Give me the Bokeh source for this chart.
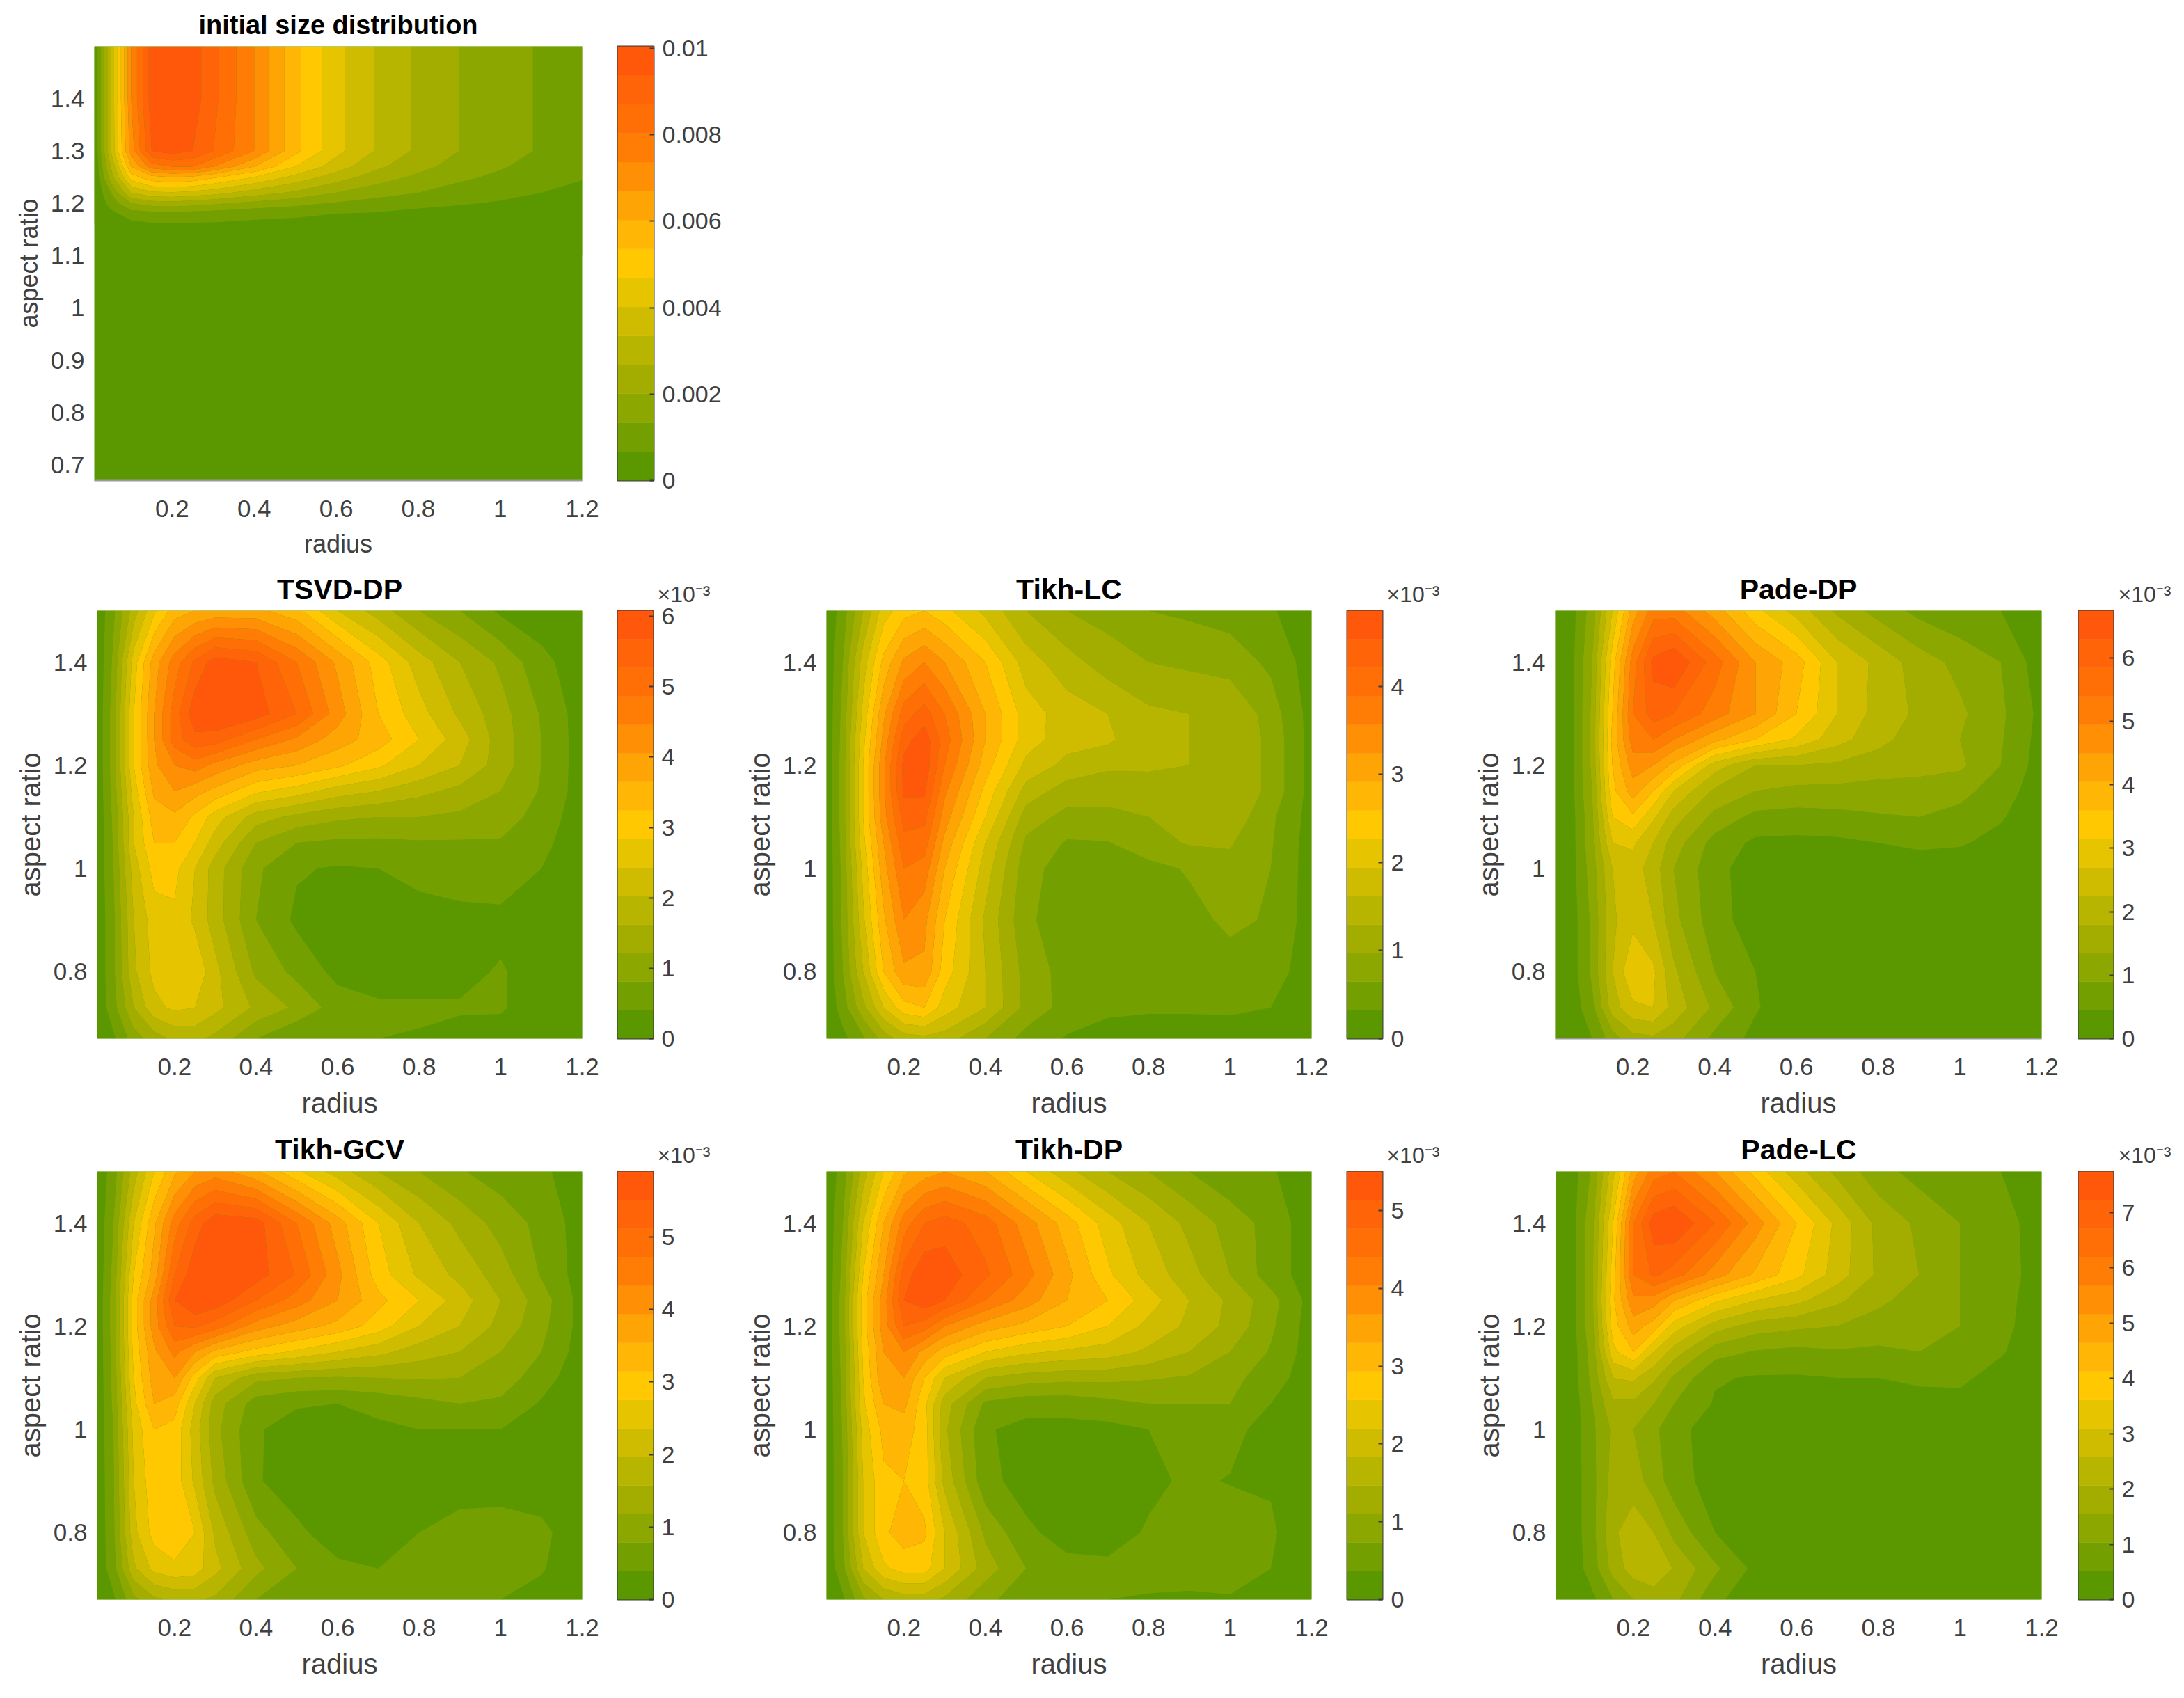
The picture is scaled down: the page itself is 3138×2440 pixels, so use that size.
from bokeh.plotting import figure
from bokeh.layouts import column, row
from bokeh.models import Range1d, FixedTicker
from bokeh.embed import file_html
from bokeh.resources import INLINE

# Colours of the 15 filled bands, low to high
band_colors = ["#5B9800", "#73A000", "#8CA800", "#A3AD00", "#B8B500", "#CFBC00", "#E6C400", "#FFC800",
               "#FFB605", "#FFA405", "#FF8F05", "#FF7D05", "#FF6F06", "#FF6408", "#FF580A"]
levels = list(range(16))

radius = [0.01, 0.05, 0.1, 0.15, 0.2, 0.25, 0.3, 0.4, 0.5, 0.6, 0.7, 0.8, 0.9, 1.0, 1.1, 1.2]
aspect = [1.5, 1.4, 1.3, 1.25, 1.2, 1.15, 1.1, 1.05, 1.0, 0.9, 0.8, 0.73, 0.67]
aspect_init = [1.5, 1.4, 1.3, 1.27, 1.25, 1.22, 1.2, 1.18, 1.16, 1.1, 1.0, 0.67]

x_ticks = [0.2, 0.4, 0.6, 0.8, 1.0, 1.2]
x_labels = ["0.2", "0.4", "0.6", "0.8", "1", "1.2"]
y_ticks_init = [0.7, 0.8, 0.9, 1.0, 1.1, 1.2, 1.3, 1.4]
y_labels_init = ["0.7", "0.8", "0.9", "1", "1.1", "1.2", "1.3", "1.4"]
y_ticks = [0.8, 1.0, 1.2, 1.4]
y_labels = ["0.8", "1", "1.2", "1.4"]

# Values, expressed in colour-band units (0..15), top row first
initial = [
 [0, 5, 11, 14.5, 15, 14.5, 13.3, 11, 8.3, 6.3, 4.9, 3.8, 3, 2.4, 1.9, 1.5],
 [0, 5, 11, 14.5, 15, 14.5, 13.3, 11, 8.3, 6.3, 4.9, 3.8, 3, 2.4, 1.9, 1.5],
 [0, 5, 10.5, 14, 14.5, 14, 13, 11, 8.3, 6.3, 4.9, 3.8, 3, 2.4, 1.9, 1.5],
 [0, 4, 9, 11.5, 12, 12, 11, 9, 7, 5.5, 4.2, 3.3, 2.6, 2.1, 1.6, 1.3],
 [0, 3.5, 7.5, 8.7, 9, 8.8, 8.2, 7, 5.7, 4.5, 3.5, 2.8, 2.2, 1.8, 1.4, 1.05],
 [0, 2, 5, 5.8, 5.9, 5.7, 5.4, 4.5, 3.8, 3, 2.4, 2, 1.6, 1.3, 1, 0.8],
 [0, 1.4, 3, 3.5, 3.6, 3.4, 3.2, 2.7, 2.3, 1.9, 1.6, 1.3, 1.1, 0.9, 0.7, 0.5],
 [0, 0.7, 1.5, 1.6, 1.7, 1.6, 1.5, 1.3, 1.2, 1, 0.9, 0.7, 0.6, 0.5, 0.4, 0.3],
 [0, 0.2, 0.7, 0.9, 0.9, 0.9, 0.9, 0.8, 0.7, 0.6, 0.5, 0.4, 0.3, 0.2, 0.2, 0.1],
 [0, 0, 0.1, 0.1, 0.1, 0.1, 0.1, 0.1, 0.1, 0.1, 0.1, 0.1, 0.1, 0, 0, 0],
 [0, 0, 0, 0, 0, 0, 0, 0, 0, 0, 0, 0, 0, 0, 0, 0],
 [0, 0, 0, 0, 0, 0, 0, 0, 0, 0, 0, 0, 0, 0, 0, 0],
]
tsvd_dp = [
 [0.2, 1.8, 4.5, 6.8, 8.5, 9, 9.3, 9.3, 8.3, 6, 4.5, 3, 2, 0.8, 0.4, 0.2],
 [0.2, 2.2, 6.5, 9.5, 11.5, 13.2, 14.5, 14, 12, 9.8, 7.5, 5.5, 4, 2.8, 1.3, 0.4],
 [0.2, 2.5, 7, 10, 12.5, 14.7, 15, 14.5, 13, 10.5, 8, 6.4, 4.8, 3.4, 1.9, 0.5],
 [0.2, 2.5, 7, 10, 12.5, 13.7, 13.5, 12, 10.8, 9.5, 8.5, 7, 5.5, 3.5, 2, 0.5],
 [0.2, 2.5, 7, 9.8, 11, 11.5, 10.7, 9.5, 9, 8.2, 7.2, 6, 5, 3.5, 2, 0.5],
 [0.2, 2.4, 6.5, 9.2, 10, 9.4, 8.7, 7.2, 6.5, 5.5, 5, 4.3, 3.7, 3, 1.9, 0.5],
 [0.2, 2.2, 6, 8.5, 8.8, 7.8, 6.5, 4.5, 3.7, 3.2, 3, 3, 2.8, 2.5, 1.6, 0.4],
 [0.2, 2.1, 6, 8, 8, 7, 5.5, 3, 2, 1.8, 1.8, 1.9, 1.9, 1.9, 1.3, 0.3],
 [0.2, 2, 5.5, 7.4, 7.3, 6, 4.5, 2.2, 1.1, 0.9, 1, 1.4, 1.7, 1.7, 1, 0.3],
 [0.2, 1.8, 5, 6.5, 6.8, 5.8, 4.5, 2, 0.8, 0.4, 0.4, 0.5, 0.6, 0.7, 0.4, 0.2],
 [0.2, 1.8, 4.8, 6.3, 6.9, 6.8, 5.3, 2.8, 1.7, 0.7, 0.4, 0.4, 0.7, 1.1, 0.5, 0.2],
 [0.2, 1.6, 4, 5.7, 6.2, 6, 5.3, 3.8, 2.8, 1.5, 1.2, 1.2, 1.1, 1.1, 0.5, 0.2],
 [0.1, 0.8, 2.5, 3.5, 4.2, 4.3, 3.7, 2, 1, 1, 1, 0.9, 0.7, 0.6, 0.3, 0.1],
]
tikh_lc = [
 [0.2, 1.5, 4, 6.5, 7.6, 8, 7.3, 5.7, 4, 3, 2.6, 2, 1.8, 1.6, 1.1, 0.4],
 [0.2, 2, 5.5, 8.3, 10.2, 11, 10, 8, 5.5, 4.4, 3.5, 3, 2.8, 2.5, 1.8, 0.5],
 [0.2, 2.3, 6.3, 9.8, 12.5, 13.5, 12, 9, 6.5, 5.5, 5, 4.2, 4, 4, 2.5, 0.6],
 [0.2, 2.4, 6.7, 10.3, 13.6, 14.6, 12.5, 9, 6.5, 5.4, 5.2, 4.2, 4, 4, 2.7, 0.6],
 [0.2, 2.5, 7, 10.8, 14.3, 14.7, 12, 8.5, 5.7, 4.7, 4.2, 4.1, 4, 4, 2.7, 0.6],
 [0.2, 2.5, 7, 10.8, 14.2, 14.2, 11.2, 7.7, 4.6, 3.5, 3.3, 3.7, 4, 4, 2.7, 0.6],
 [0.2, 2.5, 7, 10.6, 13.4, 13.3, 10.5, 7, 3.5, 2.7, 2.8, 3, 3.4, 3.7, 2.2, 0.6],
 [0.2, 2.4, 6.7, 10, 12.7, 12.5, 9.7, 6, 2.8, 1.9, 1.95, 2.6, 3.1, 3.1, 2.1, 0.5],
 [0.2, 2.3, 6.3, 9.6, 12, 11.6, 9, 5.5, 2.4, 1.5, 1.4, 1.7, 2.1, 2.7, 2, 0.5],
 [0.2, 2.2, 5.8, 8.8, 11, 10.3, 8, 4.8, 2.2, 1.4, 1.35, 1.4, 1.7, 2.2, 1.9, 0.5],
 [0.2, 2, 5, 8, 9.8, 9.8, 7.5, 5, 2.6, 1.6, 1.2, 1.2, 1.3, 1.6, 1.5, 0.4],
 [0.2, 1.5, 3.7, 6, 7.6, 8, 6.5, 5, 2.7, 1.6, 1.2, 1.1, 1.1, 1.1, 1, 0.3],
 [0.1, 0.7, 1.8, 3.4, 4.5, 4.7, 4.5, 3, 1.6, 0.9, 0.6, 0.6, 0.6, 0.7, 0.5, 0.2],
]
pade_dp = [
 [0.2, 0.6, 2.5, 6, 9.5, 11.5, 11.5, 9.5, 7.3, 5.6, 3.8, 2.6, 1.7, 1.2, 1, 0.3],
 [0.2, 0.7, 3, 7.5, 11.5, 14.3, 15, 12.5, 10, 8.5, 6, 4.7, 3.5, 2.7, 2, 0.4],
 [0.2, 0.7, 3.2, 8, 12, 13.5, 13, 11.5, 10, 8, 6, 4.6, 3.8, 3.2, 2.2, 0.7],
 [0.2, 0.7, 3.2, 8.3, 11.5, 12, 11, 9.3, 8, 6.8, 5.4, 4.3, 3.5, 3, 2.1, 0.6],
 [0.2, 0.7, 3.2, 8, 10.5, 10, 8.7, 5.5, 4, 4, 3.8, 3.5, 3.4, 3.2, 2, 0.5],
 [0.2, 0.7, 3, 7.7, 9.5, 8, 6, 3.8, 3, 2.7, 2.7, 2.6, 2.5, 2.3, 1.5, 0.4],
 [0.2, 0.6, 2.8, 7, 7.8, 6.2, 4.5, 2.7, 1.7, 1.6, 1.7, 1.9, 2, 1.7, 1.1, 0.3],
 [0.2, 0.6, 2.7, 6, 6.2, 5, 3.5, 1.6, 0.8, 0.75, 0.8, 1, 1.2, 1.1, 0.7, 0.2],
 [0.2, 0.6, 2.5, 5, 5.5, 4.5, 3, 1.3, 0.5, 0.4, 0.4, 0.4, 0.5, 0.5, 0.3, 0.15],
 [0.2, 0.5, 2.2, 4.8, 5.7, 5, 3.3, 1.4, 0.5, 0.3, 0.3, 0.2, 0.2, 0.2, 0.2, 0.1],
 [0.2, 0.5, 2.2, 5, 6.9, 6.2, 4.2, 2, 1, 0.3, 0.2, 0.2, 0.2, 0.2, 0.2, 0.1],
 [0.2, 0.4, 1.7, 4.5, 5.8, 6, 4.6, 2.8, 1.1, 0.3, 0.2, 0.2, 0.2, 0.2, 0.2, 0.1],
 [0.1, 0.3, 1, 2.5, 3.6, 3.8, 3.4, 1.7, 0.7, 0.2, 0.2, 0.2, 0.2, 0.2, 0.1, 0.1],
]
tikh_gcv = [
 [0.2, 1.5, 4.5, 7, 8.8, 10, 10.5, 9.2, 7.2, 5.5, 4, 3, 2.1, 1.5, 1.2, 0.4],
 [0.2, 2, 6, 8.8, 11.5, 13.5, 14.7, 14.5, 12, 9.5, 7, 5, 3.7, 2.6, 1.7, 0.5],
 [0.2, 2.3, 7, 9.5, 13, 14.7, 15, 14.5, 12.9, 10.3, 7.5, 5.8, 4.7, 3.5, 1.9, 0.5],
 [0.2, 2.5, 7.5, 10.5, 14, 15, 14.7, 13, 11.5, 10, 8.3, 7, 5.5, 4, 2.5, 0.6],
 [0.2, 2.5, 7.5, 10.5, 13, 13.2, 12.5, 10.5, 9.5, 8.7, 7.5, 6, 5, 3.7, 2.3, 0.6],
 [0.2, 2.4, 7.3, 9.8, 11.3, 10, 8.7, 7.6, 6.8, 6, 5.3, 4.5, 4, 3, 2, 0.5],
 [0.2, 2.3, 7, 9.5, 10, 7.5, 5, 3.3, 3, 2.9, 3, 3.1, 3, 2.6, 1.4, 0.4],
 [0.2, 2.2, 6.7, 9, 8.5, 6, 3.5, 1.5, 1.1, 1, 1.3, 1.7, 2, 1.8, 0.9, 0.3],
 [0.2, 2, 6.3, 8, 7.7, 5.5, 3.3, 1.1, 0.6, 0.6, 0.8, 1, 1, 1, 0.5, 0.2],
 [0.2, 1.9, 6, 7.7, 7.6, 5.8, 3.7, 1.1, 0.5, 0.4, 0.4, 0.4, 0.4, 0.4, 0.3, 0.2],
 [0.2, 1.8, 5.7, 7.4, 8, 7, 4.8, 2.4, 1.2, 0.5, 0.6, 1, 1.5, 1.6, 1.3, 0.2],
 [0.2, 1.6, 4.8, 6.3, 6.7, 6.5, 5.3, 3.3, 2, 1.2, 1, 1.2, 1.4, 1.5, 1.1, 0.2],
 [0.1, 0.8, 2.7, 3.8, 4.2, 4.2, 3.8, 2, 1.2, 1.1, 1.1, 1.2, 1.2, 1, 0.6, 0.2],
]
tikh_dp = [
 [0.2, 1.5, 4.5, 7, 8.8, 9.5, 10, 9, 7, 5.3, 4, 3, 2, 1.2, 1.1, 0.4],
 [0.2, 2, 6, 9, 11.5, 13, 13.5, 12.5, 10.5, 8.5, 6.5, 5, 3.7, 2.6, 1.6, 0.4],
 [0.2, 2.3, 7, 10, 13.5, 14.8, 14.6, 13.2, 11.4, 9.3, 7.2, 5.6, 4.4, 3, 1.5, 0.5],
 [0.2, 2.5, 7.5, 10.5, 14, 14.7, 14, 12, 10.5, 9, 8, 6.5, 5, 3.8, 2.4, 0.6],
 [0.2, 2.5, 7.5, 10.5, 13, 12.5, 11, 9.5, 8.7, 8, 7, 5.7, 4.8, 3.7, 2.2, 0.5],
 [0.2, 2.4, 7.2, 10, 11, 9.7, 8.5, 7, 6.2, 5.8, 5.5, 4.8, 4, 3, 1.9, 0.5],
 [0.2, 2.3, 7, 9.8, 10, 8, 6, 4, 3.5, 3.3, 3.3, 3.1, 2.9, 2.3, 1.5, 0.4],
 [0.2, 2.2, 6.8, 9, 9.3, 7.3, 4.5, 1.8, 1.4, 1.4, 1.7, 2, 2, 2, 1, 0.3],
 [0.2, 2.1, 6.4, 8.3, 8.5, 7.5, 4.2, 1.1, 0.7, 0.7, 0.7, 1, 1.3, 1.3, 0.6, 0.2],
 [0.2, 2, 6, 7.8, 8, 7.5, 4.7, 1.3, 0.6, 0.5, 0.5, 0.8, 1.15, 0.95, 0.9, 0.3],
 [0.2, 2, 6, 7.8, 8.5, 8.2, 6, 2.8, 1.2, 0.6, 0.6, 1.1, 1.4, 1.5, 1.15, 0.2],
 [0.2, 1.7, 5, 6.8, 7.4, 7.4, 6, 3.5, 2, 1.3, 1.2, 1.4, 1.5, 1.5, 1, 0.2],
 [0.1, 0.8, 2.8, 4, 4.5, 4.5, 3.8, 2.3, 1.3, 1.15, 1, 0.9, 0.8, 0.9, 0.6, 0.2],
]
pade_lc = [
 [0.1, 0.5, 2.2, 5.7, 9.5, 11.5, 12, 10, 7.6, 5.4, 3.7, 2.4, 1.6, 1.1, 1, 0.3],
 [0.1, 0.6, 2.8, 7, 12, 14.6, 15, 13, 10.5, 8, 5.7, 3.7, 2.8, 2, 1.5, 0.4],
 [0.1, 0.6, 2.9, 7.5, 12, 13.2, 12.5, 10.5, 8.8, 7.3, 5.5, 3.8, 3, 2, 1.5, 0.5],
 [0.1, 0.6, 2.9, 7.8, 10.8, 10.5, 9, 7.2, 6, 5.3, 4.2, 3.2, 2.6, 2, 1.4, 0.4],
 [0.1, 0.6, 2.8, 7.5, 9.5, 8.5, 6.5, 4.5, 3.5, 3.2, 3, 2.6, 2.3, 2, 1.3, 0.4],
 [0.1, 0.5, 2.5, 6.7, 8, 6, 4.5, 2.4, 1.9, 1.7, 1.9, 1.8, 2, 1.9, 1.1, 0.3],
 [0.1, 0.5, 2.3, 5, 5.2, 4.2, 2.8, 1.1, 0.9, 0.9, 1, 1, 1.2, 1.2, 0.6, 0.2],
 [0.1, 0.4, 2, 3.8, 3.8, 3, 2, 0.9, 0.4, 0.4, 0.4, 0.5, 0.6, 0.7, 0.3, 0.1],
 [0.1, 0.4, 1.8, 3.2, 3, 2.2, 1.4, 0.4, 0.3, 0.3, 0.3, 0.3, 0.3, 0.3, 0.2, 0.1],
 [0.1, 0.4, 1.7, 3.4, 3.5, 2.5, 1.5, 0.5, 0.2, 0.2, 0.2, 0.2, 0.2, 0.2, 0.2, 0.1],
 [0.1, 0.4, 1.7, 3.8, 4.6, 4, 2.7, 1, 0.4, 0.2, 0.2, 0.2, 0.2, 0.2, 0.2, 0.1],
 [0.1, 0.4, 1.5, 3.4, 4.5, 5, 3.9, 2.2, 0.7, 0.2, 0.2, 0.2, 0.2, 0.2, 0.2, 0.1],
 [0.1, 0.3, 0.8, 2, 3, 3.3, 3.3, 1.2, 0.4, 0.2, 0.2, 0.2, 0.2, 0.2, 0.1, 0.1],
]

FONT = "Liberation Sans"
TXT = "#404040"
EXPONENT = "\u00d710\u207b\u00b3"


def panel(title, grid, ys, width, height, left, right, top, bottom, y_t, y_l,
          title_size, label_size, tick_size=35, base_line=False, title_standoff=15):
    p = figure(width=width, height=height, output_backend="svg", toolbar_location=None,
               x_range=Range1d(radius[0], radius[-1]), y_range=Range1d(ys[-1], ys[0]),
               min_border_left=left, min_border_right=right, min_border_top=top, min_border_bottom=bottom,
               outline_line_color=None, background_fill_color=band_colors[0], border_fill_color="white")
    p.grid.visible = False
    cr = p.contour(radius, ys[::-1], grid[::-1], levels, fill_color=band_colors, line_color=None)
    cr.fill_renderer.glyph.line_color = cr.fill_renderer.glyph.fill_color
    cr.fill_renderer.glyph.line_width = 1
    p.title.text = title
    p.title.align = "center"
    p.title.text_font = FONT
    p.title.text_font_size = f"{title_size}px"
    p.title.text_font_style = "bold"
    p.title.text_color = "#000000"
    p.title.standoff = title_standoff
    for ax, tk, lb, name in ((p.xaxis[0], x_ticks, x_labels, "radius"), (p.yaxis[0], y_t, y_l, "aspect ratio")):
        ax.ticker = FixedTicker(ticks=tk)
        ax.major_label_overrides = dict(zip(tk, lb))
        ax.axis_label = name
        ax.axis_label_text_font = FONT
        ax.axis_label_text_font_style = "normal"
        ax.axis_label_text_font_size = f"{label_size}px"
        ax.axis_label_text_color = TXT
        ax.major_label_text_font = FONT
        ax.major_label_text_font_size = f"{tick_size}px"
        ax.major_label_text_color = TXT
        ax.major_tick_line_color = None
        ax.minor_tick_line_color = None
        ax.axis_line_color = None
    p.xaxis[0].major_label_standoff = 22
    p.xaxis[0].axis_label_standoff = 15
    p.yaxis[0].major_label_standoff = 8
    p.yaxis[0].axis_label_standoff = 8
    if base_line:
        p.xaxis[0].axis_line_color = "#9a9a9a"
        p.xaxis[0].axis_line_width = 2
    return p


def colorbar(zmax, ticks, labels, width, height, right, top, bottom, exponent=True):
    c = figure(width=width, height=height, output_backend="svg", toolbar_location=None,
               x_range=Range1d(0, 1), y_range=Range1d(0, zmax),
               min_border_left=1, min_border_right=right, min_border_top=top, min_border_bottom=bottom,
               outline_line_color="#3a3a3a", outline_line_width=2, y_axis_location="right")
    c.grid.visible = False
    c.xaxis.visible = False
    step = zmax / 15
    c.quad(left=0, right=1, bottom=[i * step for i in range(15)], top=[(i + 1) * step for i in range(15)],
           fill_color=band_colors, line_color=band_colors, line_width=0.5)
    ax = c.yaxis[0]
    ax.ticker = FixedTicker(ticks=ticks)
    ax.major_label_overrides = dict(zip(ticks, labels))
    ax.major_label_text_font = FONT
    ax.major_label_text_font_size = "34px"
    ax.major_label_text_color = TXT
    ax.major_tick_in = 6
    ax.major_tick_out = 0
    ax.major_tick_line_color = "#3a3a3a"
    ax.major_tick_line_width = 2
    ax.minor_tick_line_color = None
    ax.axis_line_color = None
    ax.major_label_standoff = 12
    if exponent:
        c.title.text = EXPONENT
        c.title.align = "left"
        c.title.offset = 57
        c.title.standoff = 12
        c.title.text_font = FONT
        c.title.text_font_size = "32px"
        c.title.text_font_style = "normal"
        c.title.text_color = TXT
    return c


# Row 1
r1 = panel("initial size distribution", initial, aspect_init, 878, 810, 127, 50, 66, 120,
           y_ticks_init, y_labels_init, 38, 36, base_line=True, title_standoff=19)
b1 = colorbar(0.01005, [0, 0.002, 0.004, 0.006, 0.008, 0.01],
              ["0", "0.002", "0.004", "0.006", "0.008", "0.01"], 174, 810, 121, 66, 120, exponent=False)
first = row(r1, b1)

H2 = 804
p2a = panel("TSVD-DP", tsvd_dp, aspect, 878, H2, 131, 50, 67, 122, y_ticks, y_labels, 41, 40)
c2a = colorbar(6.08, [0, 1, 2, 3, 4, 5, 6], ["0", "1", "2", "3", "4", "5", "6"], 174, H2, 122, 67, 122)
p2b = panel("Tikh-LC", tikh_lc, aspect, 874, H2, 127, 50, 67, 122, y_ticks, y_labels, 41, 40)
c2b = colorbar(4.86, [0, 1, 2, 3, 4], ["0", "1", "2", "3", "4"], 171, H2, 119, 67, 122)
p2c = panel("Pade-DP", pade_dp, aspect, 880, H2, 129, 52, 67, 122, y_ticks, y_labels, 41, 40, base_line=True)
c2c = colorbar(6.74, [0, 1, 2, 3, 4, 5, 6], ["0", "1", "2", "3", "4", "5", "6"], 145, H2, 94, 67, 122)
second = row(p2a, c2a, p2b, c2b, p2c, c2c)

H3 = 816
p3a = panel("Tikh-GCV", tikh_gcv, aspect, 878, H3, 131, 50, 69, 132, y_ticks, y_labels, 41, 40, title_standoff=17)
c3a = colorbar(5.9, [0, 1, 2, 3, 4, 5], ["0", "1", "2", "3", "4", "5"], 174, H3, 122, 69, 132)
p3b = panel("Tikh-DP", tikh_dp, aspect, 874, H3, 127, 50, 69, 132, y_ticks, y_labels, 41, 40, title_standoff=17)
c3b = colorbar(5.5, [0, 1, 2, 3, 4, 5], ["0", "1", "2", "3", "4", "5"], 171, H3, 119, 69, 132)
p3c = panel("Pade-LC", pade_lc, aspect, 880, H3, 130, 52, 69, 132, y_ticks, y_labels, 41, 40, title_standoff=17)
c3c = colorbar(7.74, [0, 1, 2, 3, 4, 5, 6, 7], ["0", "1", "2", "3", "4", "5", "6", "7"], 145, H3, 94, 69, 132)
third = row(p3a, c3a, p3b, c3b, p3c, c3c)

page = column(first, second, third, spacing=0, margin=(0, 0, 0, 8))
open("out.html", "w").write(file_html(page, INLINE))
